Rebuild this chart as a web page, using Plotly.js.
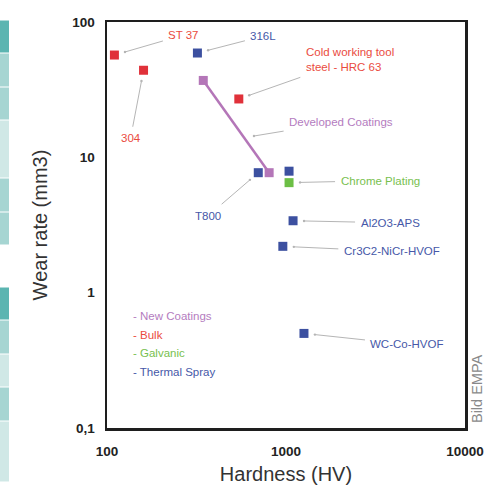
<!DOCTYPE html>
<html>
<head>
<meta charset="utf-8">
<script src="https://cdn.plot.ly/plotly-3.0.1.min.js"></script>
<style>
  html, body { margin: 0; padding: 0; background: #ffffff; }
  #chart { width: 499px; height: 487px; }
</style>
</head>
<body>
<div id="chart"></div>
<script>
// ---- data ----
const bulkNames = ["ST 37", "304", "Cold working tool<br>steel - HRC 63"];
const bulkX = [110, 160, 545];
const bulkY = [57, 44, 27];

const thermalNames = ["316L", "T800", "", "Al2O3-APS", "Cr3C2-NiCr-HVOF", "WC-Co-HVOF"];
const thermalX = [320, 700, 1040, 1095, 960, 1260];
const thermalY = [59, 7.7, 7.9, 3.4, 2.2, 0.5];

const galvanicNames = ["Chrome Plating"];
const galvanicX = [1040];
const galvanicY = [6.5];

const newNames = ["Developed Coatings"];
const newX = [345, 805];
const newY = [37, 7.7];

const legendNames = ["- New Coatings", "- Bulk", "- Galvanic", "- Thermal Spray"];
const xTickVals = [100, 1000, 10000];
const xTickText = ["100", "1000", "10000"];
const yTickVals = [0.1, 1, 10, 100];
const yTickText = ["0,1", "1", "10", "100"];

// ---- styles ----
const C = {
  red: "#e0313a", blue: "#3c50a0", green: "#6cbf45", purple: "#b476b8",
  redT: "#ea4b3e", blueT: "#4658a8", greenT: "#78bf4f", purpleT: "#b47cc0"
};
const mk = (c) => ({ symbol: "square", size: 9, color: c });

const traces = [
  { x: newX, y: newY, type: "scatter", mode: "lines+markers",
    line: { color: C.purple, width: 2.5 }, marker: mk(C.purple), hoverinfo: "x+y" },
  { x: bulkX, y: bulkY, type: "scatter", mode: "markers", marker: mk(C.red) },
  { x: thermalX, y: thermalY, type: "scatter", mode: "markers", marker: mk(C.blue) },
  { x: galvanicX, y: galvanicY, type: "scatter", mode: "markers", marker: mk(C.green) }
];

const lg = Math.log10;
const annFont = (c) => ({ family: "Liberation Sans, Arial, sans-serif", size: 11.5, color: c });
function label(text, x, y, ax, ay, color) {
  return { text: text, x: lg(x), y: lg(y), xref: "x", yref: "y", ax: ax, ay: ay,
    showarrow: true, arrowhead: 6, arrowsize: 0.6, arrowwidth: 1, arrowcolor: "#b5b5b5",
    standoff: 11, borderpad: 5, font: annFont(color), align: "left" };
}

// label offsets (layout)
const bulkOff = [[69, -20], [-13, 68], [111, -39]];
const thermalOff = [[66, -17], [-50, 43], null, [97, 2], [109, 5], [103, 11]];
const galvOff = [[91, -2]];

const annotations = [];
bulkNames.forEach((n, i) => annotations.push(label(n, bulkX[i], bulkY[i], bulkOff[i][0], bulkOff[i][1], C.redT)));
thermalNames.forEach((n, i) => { if (n) annotations.push(label(n, thermalX[i], thermalY[i], thermalOff[i][0], thermalOff[i][1], C.blueT)); });
galvanicNames.forEach((n, i) => annotations.push(label(n, galvanicX[i], galvanicY[i], galvOff[i][0], galvOff[i][1], C.greenT)));
// developed coatings arrow points at the new-coatings line
{
  const t = 0.62;
  const lx = Math.pow(10, lg(newX[0]) + t * (lg(newX[1]) - lg(newX[0])));
  const ly = Math.pow(10, lg(newY[0]) + t * (lg(newY[1]) - lg(newY[0])));
  const a = label(newNames[0], lx, ly, 97, -16, C.purpleT);
  a.standoff = 10;
  annotations.push(a);
}
// legend text
const legColors = [C.purpleT, C.redT, C.greenT, C.blueT];
legendNames.forEach((n, i) => annotations.push({
  text: n, xref: "paper", yref: "paper", x: 0.068, y: 0.276 - i * 0.0462,
  xanchor: "left", yanchor: "middle", showarrow: false, font: annFont(legColors[i])
}));
// credit
annotations.push({
  text: "Bild EMPA", xref: "paper", yref: "paper", x: 1.033, y: 0.098, textangle: -90,
  xanchor: "center", yanchor: "middle", showarrow: false,
  font: { family: "Liberation Sans, Arial, sans-serif", size: 14.5, color: "#8a8a8a" }
});

// decorative teal stripe at the left edge (page furniture)
const stripe = [
  [20, 53, "#5bb5b1"], [53, 87, "#a6d5d2"], [87, 120, "#a6d5d2"], [120, 178, "#d0e8e6"],
  [178, 212, "#a6d5d2"], [212, 245, "#a6d5d2"],
  [287, 320, "#5bb5b1"], [320, 354, "#a6d5d2"], [354, 387, "#d0e8e6"], [387, 421, "#a6d5d2"], [421, 482, "#d0e8e6"]
];
const pxX = (p) => (p - 107) / 358;
const pxY = (p) => (428 - p) / 406;
const shapes = stripe.map(s => ({
  type: "rect", xref: "paper", yref: "paper", x0: pxX(0), x1: pxX(9),
  y0: pxY(s[1] - 0.5), y1: pxY(s[0] + 0.5), fillcolor: s[2], line: { width: 0 }, layer: "below"
}));

const tickFont = { family: "Liberation Sans, Arial, sans-serif", size: 13.5, color: "#222", weight: "bold" };
const titleFont = { family: "Liberation Sans, Arial, sans-serif", size: 20, color: "#333" };

const layout = {
  width: 499, height: 487,
  margin: { l: 107, r: 34, t: 22, b: 59 },
  paper_bgcolor: "#ffffff", plot_bgcolor: "#ffffff",
  showlegend: false,
  xaxis: {
    type: "log", range: [2, 4], tickvals: xTickVals, ticktext: xTickText,
    showgrid: false, zeroline: false, showline: true, mirror: true, linecolor: "#1e1e1e", linewidth: 2.5,
    ticks: "", tickfont: tickFont, ticklabelstandoff: 9,
    title: { text: "Hardness (HV)", font: titleFont, standoff: 10 }
  },
  yaxis: {
    type: "log", range: [-1, 2], tickvals: yTickVals, ticktext: yTickText,
    showgrid: false, zeroline: false, showline: true, mirror: true, linecolor: "#1e1e1e", linewidth: 2.5,
    ticks: "", tickfont: tickFont, ticklabelstandoff: 7,
    title: { text: "Wear rate (mm3)", font: titleFont, standoff: 20 }
  },
  annotations: annotations,
  shapes: shapes
};

Plotly.newPlot("chart", traces, layout, { displayModeBar: false, staticPlot: true });
</script>
</body>
</html>
